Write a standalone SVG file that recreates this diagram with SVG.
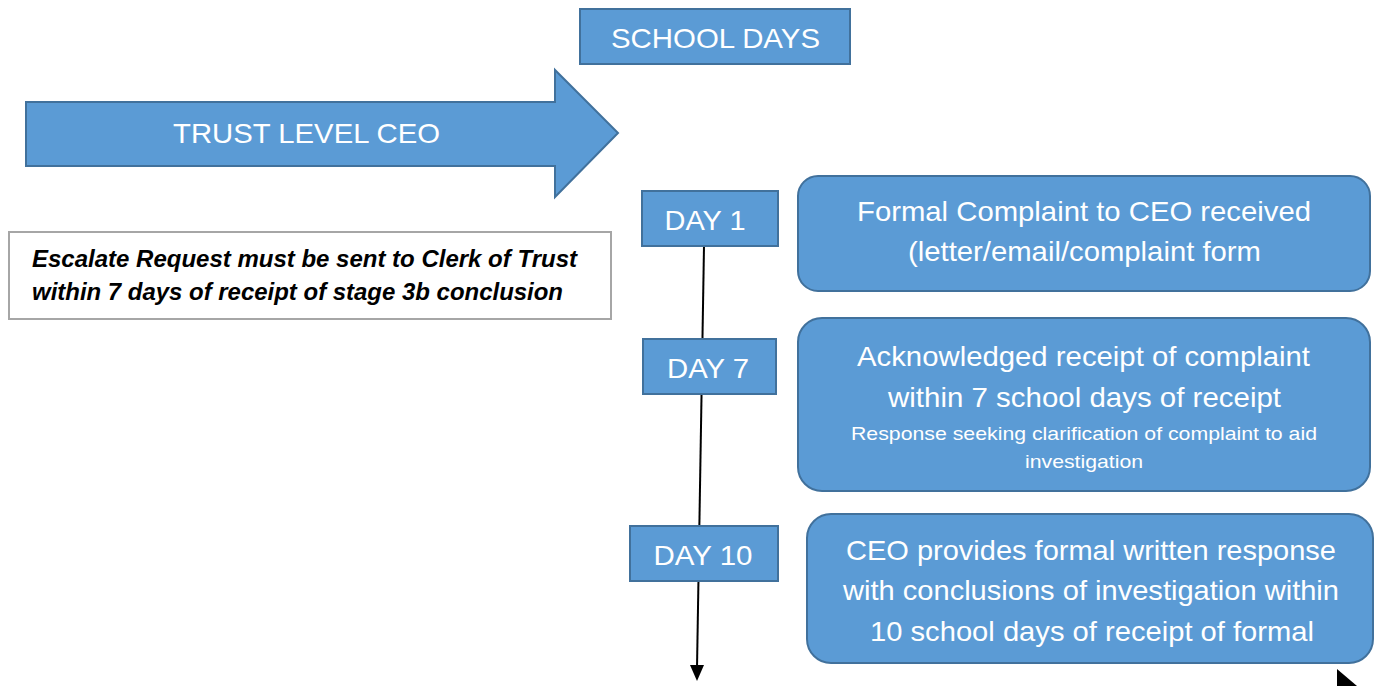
<svg xmlns="http://www.w3.org/2000/svg" width="1375" height="686" viewBox="0 0 1375 686">
<defs>
<style>
.blue{fill:#5B9BD5;stroke:#41719C;stroke-width:2}
.wt{fill:#fff;font-family:"Liberation Sans",Arial,sans-serif;text-anchor:middle}
.big{font-size:28px}
.sm{font-size:19px}
.esc{fill:#000;font-family:"Liberation Sans",Arial,sans-serif;font-size:23px;font-weight:bold;font-style:italic}
.conn{stroke:#000;stroke-width:2;fill:none}
</style>
</defs>
<rect width="1375" height="686" fill="#fff"/>
<g id="connectors">
<path class="conn" d="M704,246 L697,668"/>
<path d="M690,665 L704,665 L697,681 z" fill="#000"/>
</g>
<g id="school-days">
<rect class="blue" x="580" y="9" width="270" height="55"/>
<text class="wt big" x="715.5" y="48" textLength="209" lengthAdjust="spacingAndGlyphs">SCHOOL DAYS</text>
</g>
<g id="trust-level-ceo">
<path class="blue" d="M26,102 L555,102 L555,70 L618,133 L555,197 L555,166 L26,166 z"/>
<text class="wt big" x="306.5" y="143" textLength="267" lengthAdjust="spacingAndGlyphs">TRUST LEVEL CEO</text>
</g>
<g id="escalate">
<rect x="9" y="232" width="602" height="87" fill="#fff" stroke="#A6A6A6" stroke-width="2"/>
<text class="esc" x="32" y="267" textLength="545" lengthAdjust="spacingAndGlyphs">Escalate Request must be sent to Clerk of Trust</text>
<text class="esc" x="32" y="300" textLength="531" lengthAdjust="spacingAndGlyphs">within 7 days of receipt of stage 3b conclusion</text>
</g>
<g id="day1">
<rect class="blue" x="642" y="191" width="136" height="55"/>
<text class="wt big" x="705" y="230" textLength="81" lengthAdjust="spacingAndGlyphs">DAY 1</text>
</g>
<g id="day7">
<rect class="blue" x="643" y="339" width="133" height="55"/>
<text class="wt big" x="708" y="378" textLength="82" lengthAdjust="spacingAndGlyphs">DAY 7</text>
</g>
<g id="day10">
<rect class="blue" x="630" y="526" width="148" height="55"/>
<text class="wt big" x="703" y="565" textLength="99" lengthAdjust="spacingAndGlyphs">DAY 10</text>
</g>
<g id="box1">
<rect class="blue" x="798" y="176" width="572" height="115" rx="20"/>
<text class="wt big" x="1084" y="221" textLength="454" lengthAdjust="spacingAndGlyphs">Formal Complaint to CEO received</text>
<text class="wt big" x="1084.5" y="261" textLength="353" lengthAdjust="spacingAndGlyphs">(letter/email/complaint form</text>
</g>
<g id="box2">
<rect class="blue" x="798" y="318" width="572" height="173" rx="24"/>
<text class="wt big" x="1083.5" y="366" textLength="453" lengthAdjust="spacingAndGlyphs">Acknowledged receipt of complaint</text>
<text class="wt big" x="1084.5" y="407" textLength="393" lengthAdjust="spacingAndGlyphs">within 7 school days of receipt</text>
<text class="wt sm" x="1084" y="440" textLength="466" lengthAdjust="spacingAndGlyphs">Response seeking clarification of complaint to aid</text>
<text class="wt sm" x="1084" y="468" textLength="118" lengthAdjust="spacingAndGlyphs">investigation</text>
</g>
<g id="box3">
<rect class="blue" x="807" y="514" width="566" height="149" rx="24"/>
<text class="wt big" x="1091" y="560" textLength="490" lengthAdjust="spacingAndGlyphs">CEO provides formal written response</text>
<text class="wt big" x="1091" y="600" textLength="496" lengthAdjust="spacingAndGlyphs">with conclusions of investigation within</text>
<text class="wt big" x="1092" y="641" textLength="444" lengthAdjust="spacingAndGlyphs">10 school days of receipt of formal</text>
</g>
<polygon points="1337,669 1357,686 1337,686" fill="#000"/>
</svg>
